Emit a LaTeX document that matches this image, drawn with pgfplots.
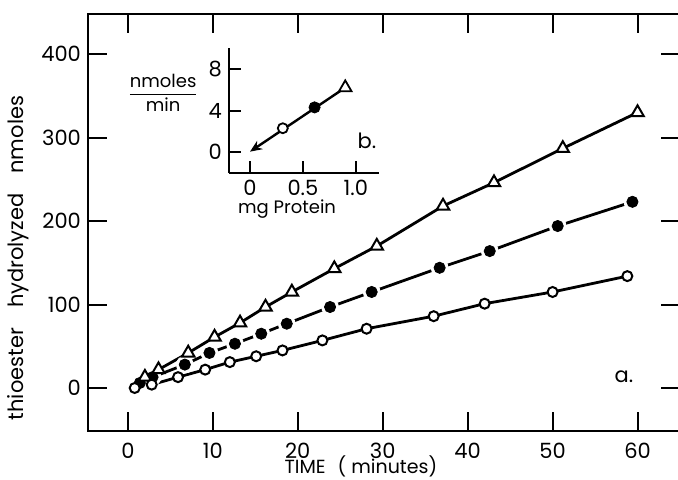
\documentclass[border=0pt]{standalone}
\usepackage{pgfplots}
\usepackage{pgfplotstable}
\pgfplotsset{compat=1.18}
\usepackage{fontspec}
\setmainfont{Poppins}
\usetikzlibrary{arrows.meta}

% time (min), nmoles
\pgfplotstableread{
x y
1.4 6
2.9 13
6.7 28
9.6 42
12.6 53
15.7 65
18.7 77
23.8 97
28.7 115
36.7 144
42.6 164
50.6 194
59.4 223
}\filled

\pgfplotstableread{
x y
2.0 13
3.6 22
7.1 42
10.2 61
13.2 78
16.2 97
19.3 115
24.3 143
29.3 170
37.1 218
43.1 246
51.2 287
60.0 330
}\tri

\pgfplotstableread{
x y
0.8 0
2.8 4
5.9 13
9.1 22
12.0 31
15.1 38
18.2 45
22.9 57
28.1 71
36.0 86
42.0 101
50.0 115
58.8 134
}\open

\begin{document}
\begin{tikzpicture}[font=\fontsize{10.5}{12}\selectfont]
\begin{axis}[
  name=main,
  scale only axis,
  width=296pt, height=208.5pt,
  xmin=-4.7, xmax=65, ymin=-51.5, ymax=448,
  xtick={0,10,...,60}, ytick={0,100,...,400},
  tick align=inside,
  major tick length=9.5pt,
  axis line style={line width=1pt},
  tick style={line width=1pt, black},
  /pgf/number format/assume math mode=true,
  xticklabel style={yshift=-2.5pt},
  xlabel={TIME\hspace{6pt}( minutes)},
  ylabel={thioester\hspace{10pt}hydrolyzed\hspace{10pt}nmoles},
  xlabel style={at={(axis description cs:0.461,-0.042)}, anchor=north,
                font=\fontsize{9.5}{11}\selectfont},
  ylabel style={at={(axis description cs:-0.118,0.415)}, anchor=center},
  clip=false,
]
  % filled circles: gaps in the line at the markers
  \addplot[line width=1.4pt] table {\filled};
  \addplot[only marks, white, mark=*, mark size=4.2pt] table {\filled};
  \addplot[only marks, black, mark=*, mark size=2.8pt] table {\filled};
  % triangles
  \addplot[line width=1.4pt, mark=triangle*, mark size=3.6pt,
           mark options={fill=white, line width=1pt}] table {\tri};
  % open circles
  \addplot[line width=1.4pt, mark=*, mark size=2.5pt,
           mark options={fill=white, line width=1pt}] table {\open};
  \node[anchor=base] at (axis cs:58.4,7) {a.};
  \coordinate (insetpos) at (axis cs:11.88,257.5);
\end{axis}

\begin{axis}[
  name=inset,
  at={(insetpos)}, anchor=south west,
  scale only axis, width=75pt, height=62.5pt,
  xmin=-0.2, xmax=1.217, ymin=-2, ymax=10,
  axis x line*=bottom, axis y line*=left,
  axis line style={-, line width=1pt},
  xtick={0,0.5,1}, xticklabels={0,0.5,1.0}, ytick={0,4,8},
  tick align=inside, major tick length=6pt,
  tick style={line width=1pt, black},
  /pgf/number format/assume math mode=true,
  clip=false,
]
  \addplot[line width=1.2pt, -{Stealth[length=6pt,width=5pt]}] coordinates {(0.9,6.2) (0.0,0.05)};
  \addplot[only marks, mark=*, mark size=2.5pt, mark options={fill=white, line width=0.9pt}] coordinates {(0.31,2.3)};
  \addplot[only marks, black, mark=*, mark size=2.8pt] coordinates {(0.61,4.3)};
  \addplot[only marks, mark=triangle*, mark size=3.6pt, mark options={fill=white, line width=0.9pt}] coordinates {(0.9,6.2)};
  \node[anchor=base west] at (axis cs:0.95,0.4) {b.};
  \node[anchor=base, font=\fontsize{9}{11}\selectfont] at (axis cs:0.35,-5.9) {mg Protein};
  \node[font=\fontsize{9}{11}\selectfont] at (axis cs:-0.82,5.7) {$\displaystyle\frac{\mbox{nmoles}}{\mbox{min}}$};
\end{axis}

\pgfresetboundingbox
\useasboundingbox ([xshift=-44pt,yshift=-24.5pt]main.south west) rectangle ([xshift=-1pt,yshift=7pt]main.north east);
\end{tikzpicture}
\end{document}
